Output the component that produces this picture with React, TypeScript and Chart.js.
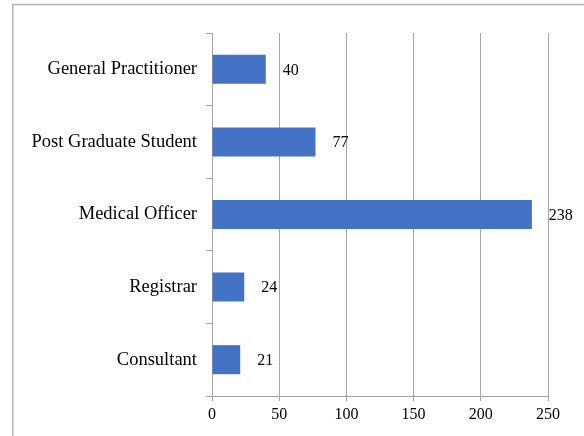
import React, { useEffect, useRef } from "react";
import { Chart, registerables } from "chart.js";

Chart.register(...registerables);

const categories = [
  "General Practitioner",
  "Post Graduate Student",
  "Medical Officer",
  "Registrar",
  "Consultant",
];
const counts = [40, 77, 238, 24, 21];
const xMin = 0;
const xMax = 250;
const xStep = 50;

const FONT = "'Liberation Serif', 'Times New Roman', serif";
const GRID = "#a6a6a6";

const framePlugin = {
  id: "frame",
  beforeDraw(chart: any) {
    const ctx = chart.ctx;
    ctx.save();
    ctx.fillStyle = "#ffffff";
    ctx.fillRect(0, 0, chart.width, chart.height);
    ctx.restore();
  },
  afterDraw(chart: any) {
    const ctx = chart.ctx;
    ctx.save();
    ctx.strokeStyle = "#b4b4b4";
    ctx.lineWidth = 1.5;
    ctx.beginPath();
    ctx.moveTo(12.75, chart.height);
    ctx.lineTo(12.75, 4.5);
    ctx.lineTo(chart.width, 4.5);
    ctx.stroke();
    ctx.restore();
  },
};

const labelPlugin = {
  id: "barLabels",
  afterDatasetsDraw(chart: any) {
    const ctx = chart.ctx;
    const meta = chart.getDatasetMeta(0);
    const data = chart.data.datasets[0].data as number[];
    ctx.save();
    ctx.font = `16px ${FONT}`;
    ctx.fillStyle = "#000000";
    ctx.textAlign = "left";
    ctx.textBaseline = "middle";
    meta.data.forEach((bar: any, i: number) => {
      ctx.fillText(String(data[i]), bar.x + 17, bar.y + 1);
    });
    ctx.restore();
  },
};

export default function App() {
  const ref = useRef<HTMLCanvasElement | null>(null);
  useEffect(() => {
    if (!ref.current) return;
    const chart = new Chart(ref.current, {
      type: "bar",
      data: {
        labels: categories,
        datasets: [
          {
            data: counts,
            backgroundColor: "#4472C4",
            barPercentage: 0.4,
            categoryPercentage: 1,
          },
        ],
      },
      options: {
        indexAxis: "y",
        responsive: false,
        animation: false,
        layout: { padding: { top: 33, right: 36, left: 0, bottom: 0 } },
        plugins: { legend: { display: false }, tooltip: { enabled: false } },
        scales: {
          x: {
            min: xMin,
            max: xMax,
            afterFit: (s: any) => {
              s.height = 40;
            },
            ticks: {
              stepSize: xStep,
              color: "#000000",
              font: { family: FONT, size: 16 },
              padding: 4,
              maxRotation: 0,
            },
            grid: { color: GRID, lineWidth: 1, tickLength: 5 },
            border: { color: GRID },
          },
          y: {
            afterFit: (s: any) => {
              s.width = 212;
            },
            ticks: {
              color: "#000000",
              font: { family: FONT, size: 18.5 },
              padding: 9,
            },
            grid: {
              color: GRID,
              offset: true,
              drawOnChartArea: false,
              tickLength: 6,
            },
            border: { color: GRID },
          },
        },
      },
      plugins: [framePlugin, labelPlugin],
    });
    return () => chart.destroy();
  }, []);
  return (
    <div style={{ position: "fixed", left: 0, top: 0, width: 584, height: 436 }}>
      <canvas ref={ref} width={584} height={436} style={{ display: "block" }} />
    </div>
  );
}
